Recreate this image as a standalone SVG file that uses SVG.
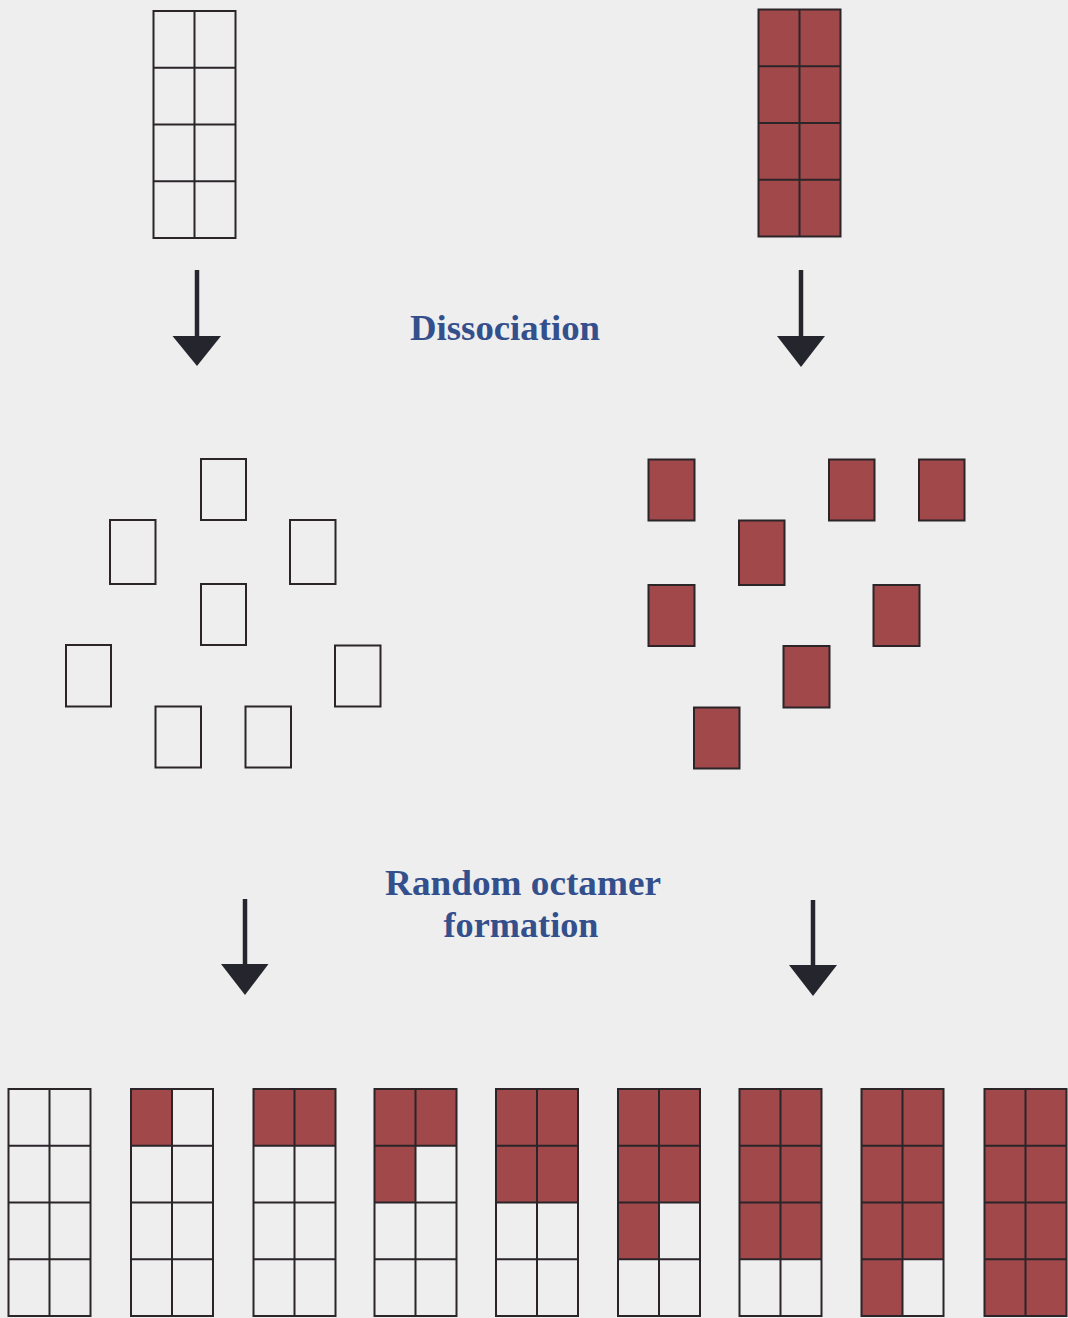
<svg xmlns="http://www.w3.org/2000/svg" xmlns:xlink="http://www.w3.org/1999/xlink" width="1068" height="1318" viewBox="0 0 1068 1318">
  <style>
    .paper { fill: #efeeef; }
    .red { fill: #a0484a; }
    .open { fill: none; stroke: #2b2529; stroke-width: 2; }
    .box { fill: none; stroke: #2b2529; stroke-width: 2; }
    .rbox { fill: #a0484a; stroke: #2b2529; stroke-width: 2; }
    .shaft { stroke: #25252d; stroke-width: 4.5; fill: none; }
    .head { fill: #25252d; }
    .label { font-family: "Liberation Serif", "Times New Roman", serif; font-weight: bold; font-size: 35px; fill: #34508c; text-anchor: middle; }
  </style>
  <defs>
    <!-- 2 x 4 octamer outline, 82 x 227 -->
    <g id="grid">
      <rect class="open" x="0" y="0" width="82" height="227"/>
      <path class="open" d="M41 0V227M0 56.75H82M0 113.5H82M0 170.25H82"/>
    </g>
    <rect id="cell" class="red" width="41" height="56.75"/>
  </defs>

  <rect class="paper" x="0" y="0" width="1068" height="1318"/>

  <!-- starting octamers -->
  <g id="octamer-empty" transform="translate(153.5,11)">
    <use xlink:href="#grid"/>
  </g>
  <g id="octamer-full" transform="translate(758.5,9.5)">
    <use xlink:href="#cell" x="0" y="0"/><use xlink:href="#cell" x="41" y="0"/>
    <use xlink:href="#cell" x="0" y="56.75"/><use xlink:href="#cell" x="41" y="56.75"/>
    <use xlink:href="#cell" x="0" y="113.5"/><use xlink:href="#cell" x="41" y="113.5"/>
    <use xlink:href="#cell" x="0" y="170.25"/><use xlink:href="#cell" x="41" y="170.25"/>
    <use xlink:href="#grid"/>
  </g>

  <!-- labels -->
  <g id="label-dissociation">
    <text class="label" x="505" y="340" textLength="190" lengthAdjust="spacingAndGlyphs">Dissociation</text>
  </g>
  <g id="label-random">
    <text class="label" x="523" y="895" textLength="276" lengthAdjust="spacingAndGlyphs">Random octamer</text>
    <text class="label" x="521" y="937" textLength="155" lengthAdjust="spacingAndGlyphs">formation</text>
  </g>

  <!-- free monomers, unlabelled -->
  <g id="monomers-empty">
    <rect class="box" x="201" y="459" width="45" height="61"/>
    <rect class="box" x="110" y="520" width="45.5" height="64"/>
    <rect class="box" x="290" y="520" width="45.5" height="64"/>
    <rect class="box" x="201" y="584" width="45" height="61"/>
    <rect class="box" x="66" y="645" width="45" height="61.5"/>
    <rect class="box" x="335" y="645.5" width="45.5" height="61"/>
    <rect class="box" x="155.5" y="706.5" width="45.5" height="61"/>
    <rect class="box" x="245.5" y="706.5" width="45.5" height="61"/>
  </g>

  <!-- free monomers, labelled -->
  <g id="monomers-red">
    <rect class="rbox" x="648.5" y="459.5" width="46" height="61"/>
    <rect class="rbox" x="829" y="459.5" width="45.5" height="61"/>
    <rect class="rbox" x="919" y="459.5" width="45.5" height="61"/>
    <rect class="rbox" x="739" y="520.5" width="45.5" height="64.5"/>
    <rect class="rbox" x="648.5" y="585" width="46" height="61"/>
    <rect class="rbox" x="873.5" y="585" width="46" height="61"/>
    <rect class="rbox" x="783.5" y="646" width="46" height="61.5"/>
    <rect class="rbox" x="694" y="707.5" width="45.5" height="61"/>
  </g>

  <!-- resulting mixed octamers -->
  <g id="mixed-0" transform="translate(8.5,1089)">
    <use xlink:href="#grid"/>
  </g>
  <g id="mixed-1" transform="translate(131,1089)">
    <use xlink:href="#cell" x="0" y="0"/>
    <use xlink:href="#grid"/>
  </g>
  <g id="mixed-2" transform="translate(253.5,1089)">
    <use xlink:href="#cell" x="0" y="0"/><use xlink:href="#cell" x="41" y="0"/>
    <use xlink:href="#grid"/>
  </g>
  <g id="mixed-3" transform="translate(374.5,1089)">
    <use xlink:href="#cell" x="0" y="0"/><use xlink:href="#cell" x="41" y="0"/>
    <use xlink:href="#cell" x="0" y="56.75"/>
    <use xlink:href="#grid"/>
  </g>
  <g id="mixed-4" transform="translate(496,1089)">
    <use xlink:href="#cell" x="0" y="0"/><use xlink:href="#cell" x="41" y="0"/>
    <use xlink:href="#cell" x="0" y="56.75"/><use xlink:href="#cell" x="41" y="56.75"/>
    <use xlink:href="#grid"/>
  </g>
  <g id="mixed-5" transform="translate(618,1089)">
    <use xlink:href="#cell" x="0" y="0"/><use xlink:href="#cell" x="41" y="0"/>
    <use xlink:href="#cell" x="0" y="56.75"/><use xlink:href="#cell" x="41" y="56.75"/>
    <use xlink:href="#cell" x="0" y="113.5"/>
    <use xlink:href="#grid"/>
  </g>
  <g id="mixed-6" transform="translate(739.5,1089)">
    <use xlink:href="#cell" x="0" y="0"/><use xlink:href="#cell" x="41" y="0"/>
    <use xlink:href="#cell" x="0" y="56.75"/><use xlink:href="#cell" x="41" y="56.75"/>
    <use xlink:href="#cell" x="0" y="113.5"/><use xlink:href="#cell" x="41" y="113.5"/>
    <use xlink:href="#grid"/>
  </g>
  <g id="mixed-7" transform="translate(861.5,1089)">
    <use xlink:href="#cell" x="0" y="0"/><use xlink:href="#cell" x="41" y="0"/>
    <use xlink:href="#cell" x="0" y="56.75"/><use xlink:href="#cell" x="41" y="56.75"/>
    <use xlink:href="#cell" x="0" y="113.5"/><use xlink:href="#cell" x="41" y="113.5"/>
    <use xlink:href="#cell" x="0" y="170.25"/>
    <use xlink:href="#grid"/>
  </g>
  <g id="mixed-8" transform="translate(984.5,1089)">
    <use xlink:href="#cell" x="0" y="0"/><use xlink:href="#cell" x="41" y="0"/>
    <use xlink:href="#cell" x="0" y="56.75"/><use xlink:href="#cell" x="41" y="56.75"/>
    <use xlink:href="#cell" x="0" y="113.5"/><use xlink:href="#cell" x="41" y="113.5"/>
    <use xlink:href="#cell" x="0" y="170.25"/><use xlink:href="#cell" x="41" y="170.25"/>
    <use xlink:href="#grid"/>
  </g>

  <!-- arrows -->
  <g id="connectors">
    <line class="shaft" x1="197" y1="270" x2="197" y2="338"/>
    <polygon class="head" points="172.5,336 221,336 197,366"/>
    <line class="shaft" x1="801" y1="270" x2="801" y2="338"/>
    <polygon class="head" points="777,336 825,336 801,367"/>
    <line class="shaft" x1="245" y1="899" x2="245" y2="966"/>
    <polygon class="head" points="221,964 268.5,964 245,995"/>
    <line class="shaft" x1="813" y1="900" x2="813" y2="967"/>
    <polygon class="head" points="789,965 837,965 813,996"/>
  </g>
</svg>
